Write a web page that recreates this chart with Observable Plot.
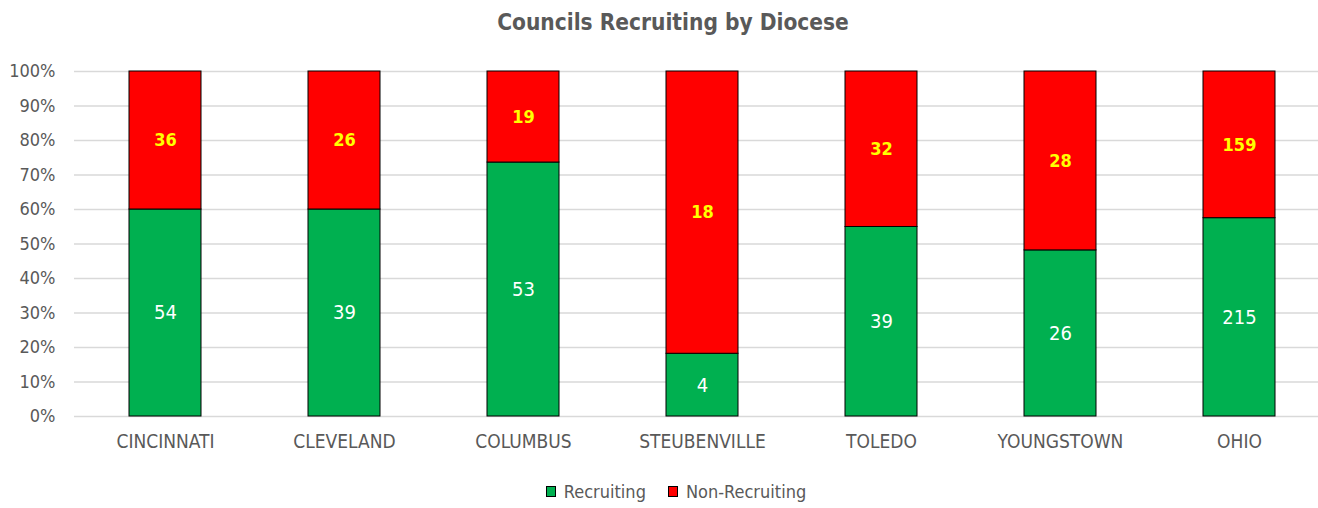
<!DOCTYPE html>
<html>
<head>
<meta charset="utf-8">
<script src="https://cdn.jsdelivr.net/npm/d3@7"></script>
<script src="https://cdn.jsdelivr.net/npm/@observablehq/plot@0.6"></script>
<style>
  html, body { margin: 0; padding: 0; background: #fff; }
  body { width: 1318px; height: 508px; overflow: hidden; font-family: "Liberation Sans Narrow", "Arial Narrow", "DejaVu Sans Condensed", sans-serif; }
  #title { height: 45px; line-height: 44px; text-align: center; padding-left: 28px; font-size: 22.5px; font-weight: bold; color: #595959; }
  #legend { display: flex; justify-content: center; align-items: center; padding-left: 34px; font-size: 18px; color: #595959; margin-top: 16px; }
  .item { display: flex; align-items: center; margin: 0 11px; }
  .sw { width: 8px; height: 9px; border: 1px solid #000; margin-right: 8px; }
</style>
</head>
<body>
<div id="title">Councils Recruiting by Diocese</div>
<div id="chart"></div>
<div id="legend"></div>
<script>
const dioceses = ["CINCINNATI", "CLEVELAND", "COLUMBUS", "STEUBENVILLE", "TOLEDO", "YOUNGSTOWN", "OHIO"];
const recruiting = [54, 39, 53, 4, 39, 26, 215];
const nonRecruiting = [36, 26, 19, 18, 32, 28, 159];
const seriesNames = ["Recruiting", "Non-Recruiting"];
const seriesColors = ["#00B050", "#FF0000"];
const yTicks = [0, 0.1, 0.2, 0.3, 0.4, 0.5, 0.6, 0.7, 0.8, 0.9, 1];

const data = [];
dioceses.forEach((d, i) => {
  data.push({diocese: d, series: seriesNames[0], value: recruiting[i]});
  data.push({diocese: d, series: seriesNames[1], value: nonRecruiting[i]});
});

const font = '"Liberation Sans Narrow", "Arial Narrow", "DejaVu Sans Condensed", sans-serif';

const chart = Plot.plot({
  width: 1318,
  height: 420,
  marginLeft: 74,
  marginRight: 0,
  marginTop: 26,
  marginBottom: 49,
  style: {fontFamily: font, fontSize: "18px", color: "#595959", background: "#fff", overflow: "visible"},
  x: {domain: dioceses, range: [74, 1329], paddingInner: 0.6, paddingOuter: 0.3, label: null},
  y: {domain: [0, 1], label: null},
  color: {domain: seriesNames, range: seriesColors},
  marks: [
    Plot.ruleY(yTicks, {stroke: "#d9d9d9", strokeWidth: 1.5}),
    Plot.axisY({ticks: yTicks, tickFormat: d => Math.round(d * 100) + "%", tickSize: 0, tickPadding: 19, label: null, fill: "#595959", fontSize: 18}),
    Plot.axisX({tickSize: 0, tickPadding: 18, label: null, fill: "#595959", fontSize: 19}),
    Plot.barY(data, Plot.stackY({offset: "normalize", x: "diocese", y: "value", z: "series", fill: "series", stroke: "#000", strokeWidth: 1})),
    Plot.text(data, Plot.stackY({offset: "normalize", x: "diocese", y: "value", z: "series",
      text: d => d.series === "Recruiting" ? String(d.value) : "", fill: "#ffffff", fontSize: 20})),
    Plot.text(data, Plot.stackY({offset: "normalize", x: "diocese", y: "value", z: "series",
      text: d => d.series === "Non-Recruiting" ? String(d.value) : "", fill: "#FFFF00", fontSize: 18, fontWeight: "bold"}))
  ]
});
document.getElementById("chart").appendChild(chart);

const legend = document.getElementById("legend");
seriesNames.forEach((s, i) => {
  const item = document.createElement("div");
  item.className = "item";
  const sw = document.createElement("span");
  sw.className = "sw";
  sw.style.background = seriesColors[i];
  const label = document.createElement("span");
  label.textContent = s;
  item.appendChild(sw);
  item.appendChild(label);
  legend.appendChild(item);
});
</script>
</body>
</html>
